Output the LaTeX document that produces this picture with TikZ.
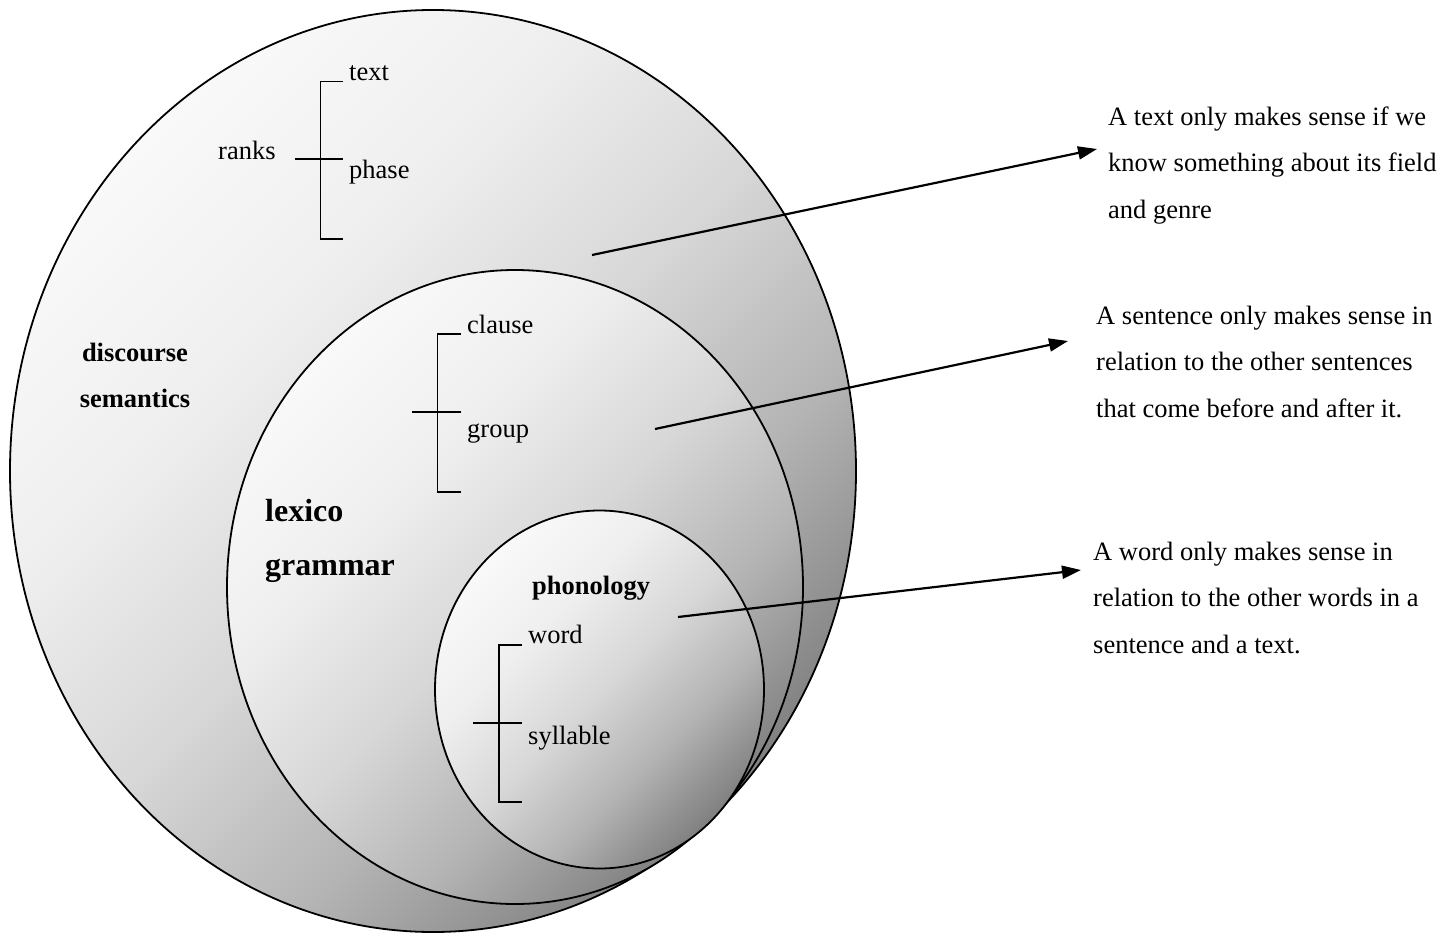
\documentclass[tikz,border=0pt]{standalone}
\usepackage{fontspec}
\setmainfont{Liberation Serif}
\usetikzlibrary{shapes.geometric,arrows.meta}
% grey ramp used to fill the strata, light in the upper left
\definecolor{rampA}{RGB}{249,249,249}
\definecolor{rampB}{RGB}{239,239,239}
\definecolor{rampC}{RGB}{216,216,216}
\definecolor{rampD}{RGB}{180,180,180}
\definecolor{rampE}{RGB}{128,128,128}
\pgfdeclareverticalshading{strataramp}{100bp}{color(0bp)=(rampE); color(25bp)=(rampE);
  color(37.5bp)=(rampD); color(50bp)=(rampC); color(62.5bp)=(rampB);
  color(75bp)=(rampA); color(100bp)=(rampA)}
\begin{document}
\begin{tikzpicture}[x=1pt,y=-1pt,
  stratum/.style={ellipse, draw=black, line width=1.8pt, inner sep=0pt,
    shading=strataramp, shading angle=45},
  lbl/.style={font=\fontsize{26.5}{46.5}\selectfont, inner sep=0pt, anchor=base west},
  head/.style={font=\fontsize{26.5}{46}\selectfont\bfseries, inner sep=0pt},
  bighead/.style={font=\fontsize{32}{53}\selectfont\bfseries, inner sep=0pt, anchor=base west},
  note/.style={font=\fontsize{26.5}{46.5}\selectfont, inner sep=0pt, anchor=base west, align=left},
  rankline/.style={line width=1.8pt},
  pointer/.style={line width=2.2pt, -{Triangle[length=19pt,width=13pt]}}
]
\useasboundingbox (0,0) rectangle (1453,934);

% nested strata
\node[stratum, minimum width=846pt, minimum height=922pt] (discourse) at (433,471) {};
\node[stratum, minimum width=576pt, minimum height=634pt] (lexgram) at (515,587) {};
\node[stratum, minimum width=329pt, minimum height=358pt] (phon) at (599.5,689.5) {};

% stratum names
\node[head, anchor=base] (ds1) at (135,361) {discourse};
\node[head, anchor=base] (ds2) at (135,407) {semantics};
\node[bighead] (lg1) at (265,521) {lexico};
\node[bighead] (lg2) at (265,575) {grammar};
\node[head, anchor=base west] (ph) at (532,594) {phonology};

% rank scale of discourse semantics
\node[lbl] (ranks) at (218,159) {ranks};
\node[lbl] (rtext) at (349,80.5) {text};
\node[lbl] (rphase) at (349,178) {phase};
\draw[rankline] (343,81.5) -- (320.5,81.5) -- (320.5,239) -- (343,239);
\draw[rankline] (295,159) -- (343,159);

% rank scale of lexicogrammar
\node[lbl] (rclause) at (467,333) {clause};
\node[lbl] (rgroup) at (467,437) {group};
\draw[rankline] (460.5,334) -- (437.5,334) -- (437.5,492) -- (460.5,492);
\draw[rankline] (412,412) -- (461,412);

% rank scale of phonology
\node[lbl] (rword) at (528,643) {word};
\node[lbl] (rsyll) at (528,744) {syllable};
\draw[rankline] (522,645) -- (499,645) -- (499,802) -- (522,802);
\draw[rankline] (473,723) -- (522,723);

% explanatory notes (anchored on the baseline of their last line)
\node[note] (n1) at (1108,218) {A text only makes sense if we\\know something about its field\\and genre};
\node[note] (n2) at (1096,417) {A sentence only makes sense in\\relation to the other sentences\\that come before and after it.};
\node[note] (n3) at (1093,653) {A word only makes sense in\\relation to the other words in a\\sentence and a text.};

% pointers from strata to notes
\coordinate (s1) at (592,255);
\coordinate (e1) at (1097,149);
\coordinate (s2) at (655,429);
\coordinate (e2) at (1068,341);
\coordinate (s3) at (678,617);
\coordinate (e3) at (1081,570);
\draw[pointer] (s1) -- (e1);
\draw[pointer] (s2) -- (e2);
\draw[pointer] (s3) -- (e3);
\end{tikzpicture}
\end{document}
